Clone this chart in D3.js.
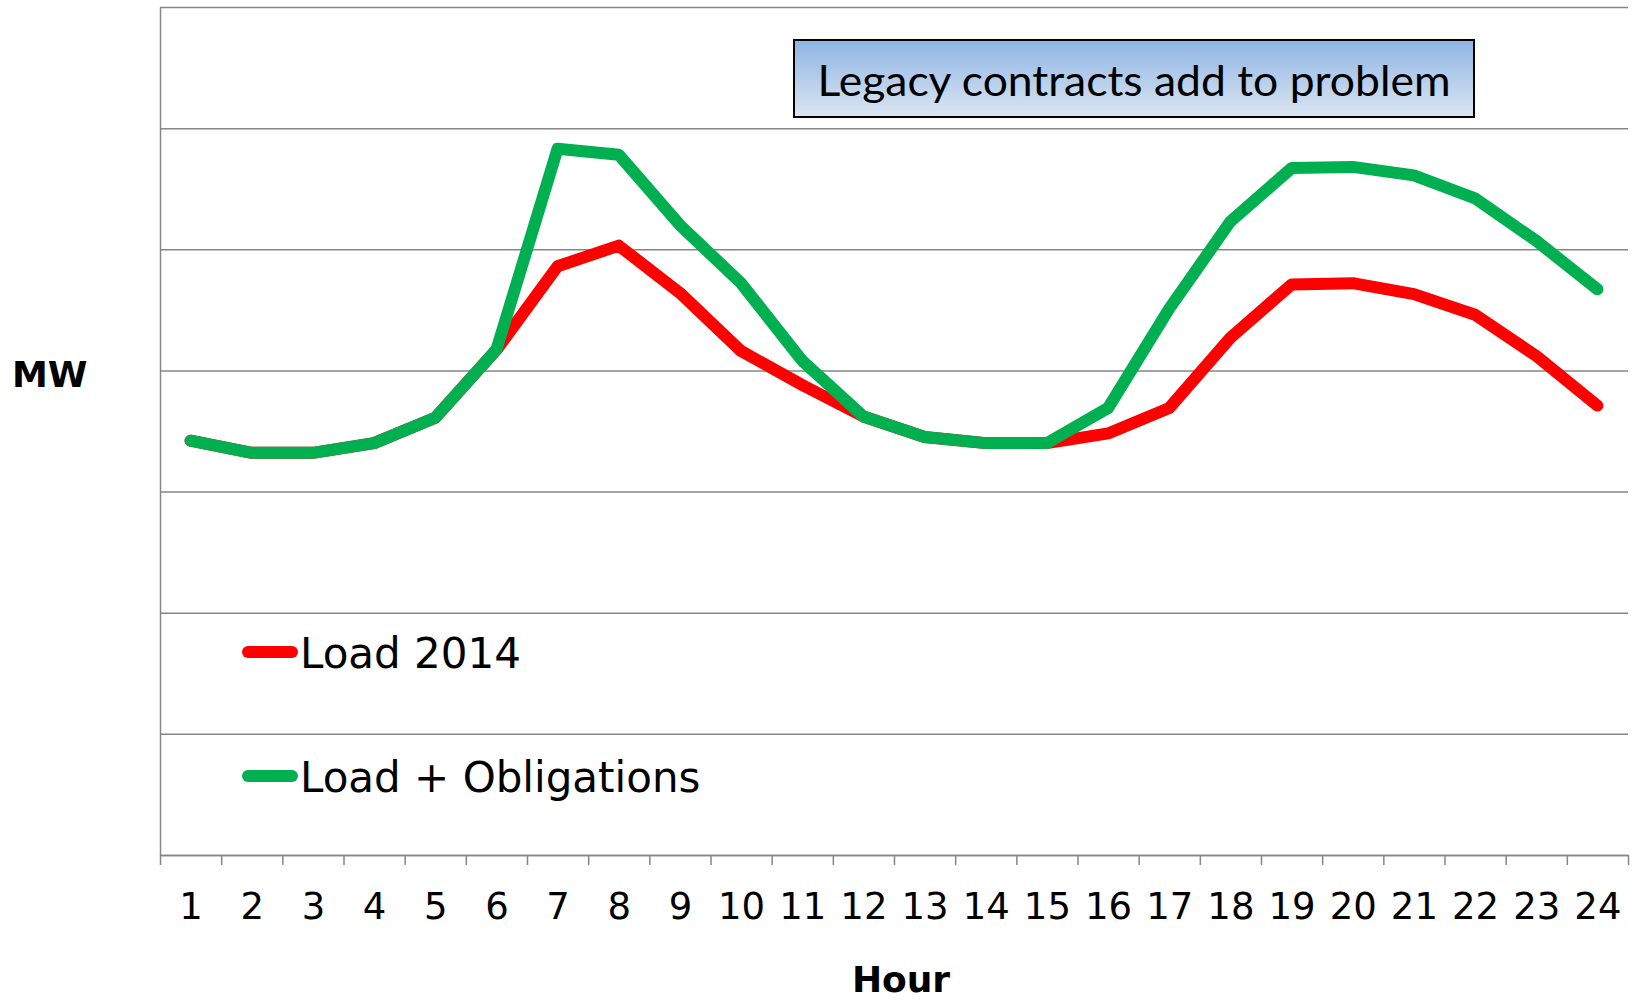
<!doctype html>
<html>
<head>
<meta charset="utf-8">
<script src="https://d3js.org/d3.v7.min.js"></script>
<style>
  body { margin: 0; background: #fff; }
  svg { display: block; }
</style>
</head>
<body>
<script>
// hours on the category axis
var hours = d3.range(1, 25);
// values (grid units, no labels on the y axis)
var load2014 = [3.42, 3.32, 3.32, 3.40, 3.61, 4.17, 4.86, 5.03, 4.64, 4.16, 3.88, 3.62,
                3.45, 3.40, 3.40, 3.48, 3.69, 4.27, 4.71, 4.72, 4.63, 4.46, 4.12, 3.71];
var loadObligations = [3.42, 3.32, 3.32, 3.40, 3.61, 4.17, 5.83, 5.78, 5.20, 4.72, 4.08, 3.62,
                       3.45, 3.40, 3.40, 3.69, 4.51, 5.23, 5.67, 5.68, 5.61, 5.42, 5.07, 4.67];
var yTicks = [0, 1, 2, 3, 4, 5, 6, 7];
var seriesNames = ["Load 2014", "Load + Obligations"];
var seriesColors = ["#ff0000", "#00b050"];
var note = "Legacy contracts add to problem";

var W = 1633, H = 1000;
var plotLeft = 160, plotRight = 1628, plotTop = 7, plotBottom = 855;

var svg = d3.select("body").append("svg")
    .attr("width", W)
    .attr("height", H);

var x = d3.scaleLinear().domain([0.5, 24.5]).range([plotLeft, plotRight]);
var y = d3.scaleLinear().domain([0, 7]).range([plotBottom, plotTop]);

// gridlines
svg.append("g")
    .attr("transform", "translate(" + plotLeft + ",0)")
    .call(d3.axisLeft(y).tickValues(yTicks).tickSize(-(plotRight - plotLeft)).tickSizeOuter(0).tickFormat(""))
    .call(function(g) {
        g.select(".domain").attr("stroke", "#868686").attr("stroke-width", 1.5);
        g.selectAll(".tick line").attr("stroke", "#868686").attr("stroke-width", 1.5);
    });

// x tick marks at category boundaries
svg.append("g")
    .attr("transform", "translate(0," + plotBottom + ")")
    .call(d3.axisBottom(x).tickValues(d3.range(0.5, 25, 1)).tickSize(10).tickSizeOuter(0).tickFormat(""))
    .call(function(g) {
        g.select(".domain").attr("stroke", "#868686").attr("stroke-width", 1.5);
        g.selectAll(".tick line").attr("stroke", "#868686").attr("stroke-width", 1.5);
    });

// x labels at category centers
svg.append("g")
    .attr("transform", "translate(0," + plotBottom + ")")
    .call(d3.axisBottom(x).tickValues(hours).tickSize(0).tickPadding(0).tickFormat(d3.format("d")))
    .call(function(g) {
        g.select(".domain").remove();
        g.selectAll("text")
            .attr("y", 64)
            .attr("dy", null)
            .attr("fill", "#000")
            .attr("font-family", "DejaVu Sans")
            .attr("font-size", 37);
    });

// lines
var line = d3.line()
    .x(function(d, i) { return x(hours[i]); })
    .y(function(d) { return y(d); });

[load2014, loadObligations].forEach(function(s, i) {
    svg.append("path")
        .datum(s)
        .attr("d", line)
        .attr("fill", "none")
        .attr("stroke", seriesColors[i])
        .attr("stroke-width", 12)
        .attr("stroke-linejoin", "round")
        .attr("stroke-linecap", "round");
});

// legend
var legendY = [652, 776];
seriesNames.forEach(function(name, i) {
    svg.append("line")
        .attr("x1", 248).attr("x2", 292)
        .attr("y1", legendY[i]).attr("y2", legendY[i])
        .attr("stroke", seriesColors[i])
        .attr("stroke-width", 12)
        .attr("stroke-linecap", "round");
    svg.append("text")
        .attr("x", 300)
        .attr("y", legendY[i] + 16)
        .attr("font-family", "DejaVu Sans")
        .attr("font-size", 42)
        .attr("fill", "#000")
        .text(name);
});

// annotation box
var grad = svg.append("defs").append("linearGradient")
    .attr("id", "boxGrad")
    .attr("x1", 0).attr("y1", 0).attr("x2", 0).attr("y2", 1);
grad.append("stop").attr("offset", "0%").attr("stop-color", "#8db4e3");
grad.append("stop").attr("offset", "100%").attr("stop-color", "#dce6f2");

svg.append("rect")
    .attr("x", 794).attr("y", 40)
    .attr("width", 680).attr("height", 77)
    .attr("fill", "url(#boxGrad)")
    .attr("stroke", "#000")
    .attr("stroke-width", 2);

svg.append("text")
    .attr("x", 1134).attr("y", 96)
    .attr("text-anchor", "middle")
    .attr("font-family", "Lato")
    .attr("font-size", 43)
    .attr("textLength", 633)
    .attr("lengthAdjust", "spacingAndGlyphs")
    .attr("fill", "#000")
    .text(note);

// axis titles
svg.append("text")
    .attr("x", 12).attr("y", 387)
    .attr("font-family", "DejaVu Sans")
    .attr("font-weight", "bold")
    .attr("font-size", 36)
    .text("MW");

svg.append("text")
    .attr("x", 901).attr("y", 992)
    .attr("text-anchor", "middle")
    .attr("font-family", "DejaVu Sans")
    .attr("font-weight", "bold")
    .attr("font-size", 36)
    .text("Hour");
</script>
</body>
</html>
